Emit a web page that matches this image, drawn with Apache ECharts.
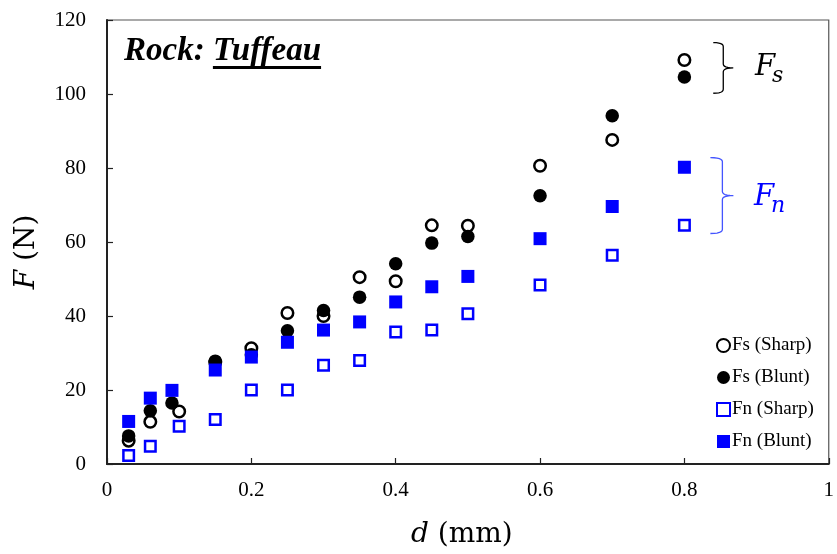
<!DOCTYPE html>
<html>
<head>
<meta charset="utf-8">
<script src="https://cdn.jsdelivr.net/npm/echarts@6/dist/echarts.min.js"></script>
<style>html,body{margin:0;padding:0;background:#fff}#c{width:837px;height:554px}</style>
</head>
<body>
<div id="c"></div>
<script>
// ---- data (d in mm, F in N) ----
const fsSharpX = [0.03, 0.06, 0.10, 0.15, 0.20, 0.25, 0.30, 0.35, 0.40, 0.45, 0.50, 0.60, 0.70, 0.80];
const fsSharpY = [6.3, 11.4, 14.2, 27.5, 31.3, 40.8, 40.0, 50.5, 49.4, 64.5, 64.4, 80.6, 87.6, 109.2];
const fsBluntX = [0.03, 0.06, 0.09, 0.15, 0.20, 0.25, 0.30, 0.35, 0.40, 0.45, 0.50, 0.60, 0.70, 0.80];
const fsBluntY = [7.6, 14.4, 16.5, 27.8, 29.5, 36.0, 41.5, 45.1, 54.1, 59.7, 61.5, 72.5, 94.1, 104.6];
const fnSharpX = [0.03, 0.06, 0.10, 0.15, 0.20, 0.25, 0.30, 0.35, 0.40, 0.45, 0.50, 0.60, 0.70, 0.80];
const fnSharpY = [2.3, 4.8, 10.2, 12.0, 20.0, 20.0, 26.7, 28.0, 35.7, 36.2, 40.6, 48.4, 56.4, 64.5];
const fnBluntX = [0.03, 0.06, 0.09, 0.15, 0.20, 0.25, 0.30, 0.35, 0.40, 0.45, 0.50, 0.60, 0.70, 0.80];
const fnBluntY = [11.5, 17.8, 19.9, 25.4, 28.9, 32.9, 36.2, 38.4, 43.8, 47.9, 50.7, 60.9, 69.6, 80.2];
const seriesNames = ['Fs (Sharp)', 'Fs (Blunt)', 'Fn (Sharp)', 'Fn (Blunt)'];
const titleA = 'Rock: ';
const titleB = 'Tuffeau';
// brace spans in data coords [yTop, yBottom]
const fsBrace = [113.9, 100.2];
const fnBrace = [82.8, 62.3];

const pair = (xs, ys) => xs.map((x, i) => [x, ys[i]]);
const serif = '"Liberation Serif", "Times New Roman", serif';
const math = '"DejaVu Serif", serif';
const BLUE = '#0000ff';

const chart = echarts.init(document.getElementById('c'));
chart.setOption({
  animation: false,
  backgroundColor: '#fff',
  grid: { left: 107, right: 4, top: 20, bottom: 89, show: true, borderColor: '#555', borderWidth: 1.2 },
  xAxis: {
    type: 'value', min: 0, max: 1, interval: 0.2,
    axisLine: { show: true, lineStyle: { color: '#222', width: 2 } },
    axisTick: { show: true, inside: true, length: 6, lineStyle: { color: '#222', width: 1.2 } },
    splitLine: { show: false },
    axisLabel: { margin: 16, color: '#000', fontFamily: serif, fontSize: 21, formatter: v => String(+v.toFixed(1)) },
    name: '{i|d} (mm)', nameLocation: 'middle', nameGap: 57,
    nameTextStyle: { color: '#000', fontFamily: math, fontSize: 28, padding: [0, 12, 0, 0],
      rich: { i: { fontStyle: 'italic', fontFamily: math, fontSize: 28 } } }
  },
  yAxis: {
    type: 'value', min: 0, max: 120, interval: 20,
    axisLine: { show: true, lineStyle: { color: '#222', width: 2 } },
    axisTick: { show: true, inside: true, length: 6, lineStyle: { color: '#222', width: 1.2 } },
    splitLine: { show: false },
    axisLabel: { margin: 21, color: '#000', fontFamily: serif, fontSize: 21 }
  },
  legend: {
    data: seriesNames, orient: 'vertical', left: 711, top: 331,
    itemWidth: 13, itemHeight: 13, itemGap: 13,
    textStyle: { fontFamily: serif, fontSize: 19, color: '#000', padding: [0, 0, 0, -3] }
  },
  series: [
    { name: 'Fs (Blunt)', type: 'scatter', data: pair(fsBluntX, fsBluntY), symbol: 'circle', symbolSize: 13.5, z: 2,
      itemStyle: { color: '#000', opacity: 1 } },
    { name: 'Fs (Sharp)', type: 'scatter', data: pair(fsSharpX, fsSharpY), symbol: 'circle', symbolSize: 11.5, z: 1,
      itemStyle: { color: '#fff', borderColor: '#000', borderWidth: 2.5, opacity: 1 } },
    { name: 'Fn (Sharp)', type: 'scatter', data: pair(fnSharpX, fnSharpY), symbol: 'rect', symbolSize: 10.5, z: 3,
      itemStyle: { color: '#fff', borderColor: BLUE, borderWidth: 2.5, opacity: 1 } },
    { name: 'Fn (Blunt)', type: 'scatter', data: pair(fnBluntX, fnBluntY), symbol: 'rect', symbolSize: 13, z: 4,
      itemStyle: { color: BLUE, opacity: 1 } }
  ]
});

// ---- annotations ----
function quad(a, c, b, n) {
  const pts = [];
  for (let i = 1; i <= n; i++) {
    const t = i / n, u = 1 - t;
    pts.push([u * u * a[0] + 2 * u * t * c[0] + t * t * b[0], u * u * a[1] + 2 * u * t * c[1] + t * t * b[1]]);
  }
  return pts;
}
function bracePoints(x0, x1, x2, yTop, yBot) {
  const yMid = (yTop + yBot) / 2, r = 4;
  let pts = [[x0, yTop]];
  pts = pts.concat(quad([x0, yTop], [x1, yTop], [x1, yTop + r], 6));
  pts.push([x1, yMid - r]);
  pts = pts.concat(quad([x1, yMid - r], [x1, yMid], [x2, yMid], 6));
  pts = pts.concat(quad([x2, yMid], [x1, yMid], [x1, yMid + r], 6));
  pts.push([x1, yBot - r]);
  pts = pts.concat(quad([x1, yBot - r], [x1, yBot], [x0, yBot], 6));
  return pts;
}
const p = (x, y) => chart.convertToPixel({ gridIndex: 0 }, [x, y]);
const fsT = p(0.84, fsBrace[0]), fsB = p(0.84, fsBrace[1]);
const fnT = p(0.836, fnBrace[0]), fnB = p(0.836, fnBrace[1]);
const fsMid = (fsT[1] + fsB[1]) / 2, fnMid = (fnT[1] + fnB[1]) / 2;

const TFONT = 'italic bold 33px ' + serif;
const ctx = document.createElement('canvas').getContext('2d');
ctx.font = TFONT;
const wA = ctx.measureText(titleA).width;
const wB = ctx.measureText(titleB).width;
const tx = 124, ty = 35;

chart.setOption({
  graphic: [
    { type: 'polyline', shape: { points: bracePoints(fsT[0], fsT[0] + 10, fsT[0] + 20, fsT[1], fsB[1]) },
      style: { fill: null, stroke: '#000', lineWidth: 1.3 } },
    { type: 'polyline', shape: { points: bracePoints(fnT[0], fnT[0] + 12, fnT[0] + 23, fnT[1], fnB[1]) },
      style: { fill: null, stroke: '#4455ff', lineWidth: 1.3 } },
    { type: 'text', left: 755, top: fsMid - 15,
      style: { text: 'F', font: 'italic 29px ' + math, fill: '#000' } },
    { type: 'text', left: 772, top: fsMid - 3,
      style: { text: 's', font: 'italic 22px ' + math, fill: '#000' } },
    { type: 'text', left: 754, top: fnMid - 13,
      style: { text: 'F', font: 'italic 29px ' + math, fill: BLUE } },
    { type: 'text', left: 771, top: fnMid,
      style: { text: 'n', font: 'italic 22px ' + math, fill: BLUE } },
    { type: 'text', x: 27, y: 252, rotation: Math.PI / 2,
      style: { text: '{i|F} (N)', font: '28px ' + math, fill: '#000', align: 'center', verticalAlign: 'middle',
        rich: { i: { fontStyle: 'italic', fontFamily: math, fontSize: 28 } } } },
    { type: 'text', left: tx, top: ty,
      style: { text: titleA + titleB, font: TFONT, fill: '#000' } },
    { type: 'line', shape: { x1: tx + wA, y1: ty + 32.5, x2: tx + wA + wB, y2: ty + 32.5 },
      style: { stroke: '#000', lineWidth: 2.8 } }
  ]
});
</script>
</body>
</html>
